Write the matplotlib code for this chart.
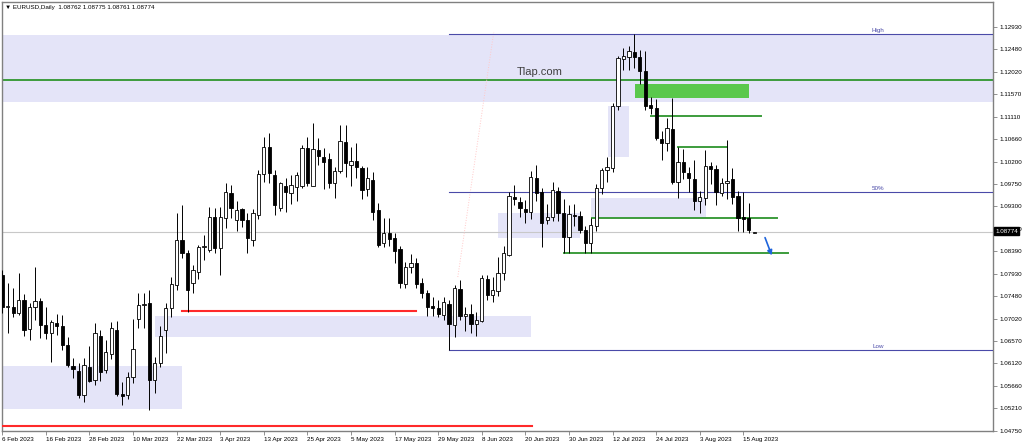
import numpy as np
import matplotlib
matplotlib.use('Agg')
import matplotlib.pyplot as plt
from matplotlib.patches import Rectangle

# daily EURUSD, 6 Feb 2023 .. 17 Aug 2023 (one value per trading day)
opens = [1.0791, 1.0726, 1.0726, 1.0714, 1.0740, 1.0682, 1.0726, 1.0738, 1.0690, 1.0673,
         1.0694, 1.0688, 1.0649, 1.0607, 1.0596, 1.0548, 1.0605, 1.0578, 1.0668, 1.0598,
         1.0630, 1.0680, 1.0550, 1.0548, 1.0584, 1.0702, 1.0730, 1.0734, 1.0578, 1.0613,
         1.0679, 1.0724, 1.0771, 1.0862, 1.0835, 1.0775, 1.0797, 1.0848, 1.0842, 1.0908,
         1.0846, 1.0906, 1.0956, 1.0902, 1.0924, 1.0902, 1.0862, 1.0912, 1.0995, 1.1050,
         1.0993, 1.0927, 1.0971, 1.0957, 1.0969, 1.0971, 1.1048, 1.0971, 1.1044, 1.1030,
         1.1026, 1.0977, 1.1001, 1.1060, 1.1013, 1.1021, 1.1007, 1.0965, 1.0983, 1.0922,
         1.0856, 1.0876, 1.0866, 1.0844, 1.0773, 1.0807, 1.0815, 1.0775, 1.0754, 1.0728,
         1.0724, 1.0710, 1.0732, 1.0690, 1.0762, 1.0707, 1.0711, 1.0692, 1.0698, 1.0783,
         1.0750, 1.0758, 1.0795, 1.0832, 1.0948, 1.0939, 1.0924, 1.0918, 1.0988, 1.0958,
         1.0902, 1.0908, 1.0961, 1.0916, 1.0868, 1.0912, 1.0910, 1.0882, 1.0855, 1.0890,
         1.0968, 1.1003, 1.1008, 1.1133, 1.1228, 1.1232, 1.1243, 1.1232, 1.1204, 1.1135,
         1.1128, 1.1066, 1.1058, 1.1086, 1.0979, 1.1019, 1.0998, 1.0985, 1.0941, 1.0946,
         1.1011, 1.1005, 1.0957, 1.0977, 1.0985, 1.0950, 1.0908, 1.0906, 1.08762]
highs = [1.0801, 1.0775, 1.0764, 1.0795, 1.0752, 1.0734, 1.0807, 1.0744, 1.0726, 1.0700,
         1.0712, 1.0709, 1.0665, 1.0623, 1.0613, 1.0623, 1.0647, 1.0694, 1.0680, 1.0659,
         1.0696, 1.0698, 1.0574, 1.0594, 1.0702, 1.0754, 1.0754, 1.0760, 1.0625, 1.0688,
         1.0734, 1.0787, 1.0916, 1.0933, 1.0841, 1.0811, 1.0852, 1.0872, 1.0928, 1.0926,
         1.0928, 1.0977, 1.0973, 1.0940, 1.0926, 1.0916, 1.0925, 1.1003, 1.1070, 1.1078,
         1.1003, 1.0980, 1.0987, 1.0993, 1.0999, 1.1054, 1.1070, 1.1099, 1.1068, 1.1048,
         1.1038, 1.1009, 1.1095, 1.1095, 1.1050, 1.1058, 1.1011, 1.1009, 1.0999, 1.0937,
         1.0906, 1.0906, 1.0876, 1.0850, 1.0817, 1.0833, 1.0825, 1.0785, 1.0760, 1.0746,
         1.0740, 1.0746, 1.0740, 1.0770, 1.0780, 1.0726, 1.0732, 1.0716, 1.0790, 1.0790,
         1.0787, 1.0827, 1.0850, 1.0958, 1.0973, 1.0949, 1.0943, 1.1001, 1.1013, 1.0967,
         1.0935, 1.0979, 1.0970, 1.0945, 1.0933, 1.0935, 1.0920, 1.0890, 1.0906, 1.0975,
         1.1008, 1.1030, 1.1140, 1.1235, 1.1250, 1.1255, 1.1278, 1.1246, 1.1245, 1.1151,
         1.1148, 1.1083, 1.1108, 1.1149, 1.1050, 1.1046, 1.1010, 1.1024, 1.0960, 1.1044,
         1.1020, 1.1013, 1.0987, 1.1064, 1.1007, 1.0960, 1.0958, 1.0937, 1.08775]
lows = [1.0714, 1.0673, 1.0705, 1.0710, 1.0667, 1.0659, 1.0700, 1.0663, 1.0662, 1.0615,
        1.0670, 1.0639, 1.0605, 1.0582, 1.0542, 1.0534, 1.0574, 1.0568, 1.0576, 1.0592,
        1.0620, 1.0546, 1.0528, 1.0540, 1.0572, 1.0684, 1.0684, 1.0517, 1.0552, 1.0605,
        1.0633, 1.0706, 1.0760, 1.0825, 1.0716, 1.0754, 1.0782, 1.0821, 1.0838, 1.0835,
        1.0791, 1.0886, 1.0906, 1.0880, 1.0888, 1.0835, 1.0850, 1.0905, 1.0980, 1.0978,
        1.0912, 1.0920, 1.0918, 1.0935, 1.0941, 1.0967, 1.0971, 1.0971, 1.1014, 1.0965,
        1.0967, 1.0947, 1.0997, 1.0989, 1.0971, 1.0987, 1.0945, 1.0950, 1.0902, 1.0847,
        1.0848, 1.0850, 1.0815, 1.0765, 1.0765, 1.0795, 1.0765, 1.0745, 1.0708, 1.0708,
        1.0705, 1.0700, 1.0639, 1.0665, 1.0700, 1.0678, 1.0673, 1.0668, 1.0695, 1.0740,
        1.0736, 1.0749, 1.0780, 1.0830, 1.0932, 1.0908, 1.0896, 1.0905, 1.0940, 1.0848,
        1.0895, 1.0900, 1.0900, 1.0835, 1.0835, 1.0890, 1.0875, 1.0835, 1.0835, 1.0880,
        1.0955, 1.0980, 1.1000, 1.1125, 1.1206, 1.1206, 1.1210, 1.1178, 1.1125, 1.1117,
        1.1065, 1.1024, 1.1042, 1.0975, 1.0947, 1.0985, 1.0959, 1.0922, 1.0917, 1.0932,
        1.0975, 1.0932, 1.0950, 1.0945, 1.0935, 1.0880, 1.0877, 1.0875, 1.08761]
closes = [1.0726, 1.0728, 1.0714, 1.0740, 1.0679, 1.0726, 1.0738, 1.0690, 1.0673, 1.0696,
          1.0688, 1.0649, 1.0609, 1.0600, 1.0548, 1.0609, 1.0576, 1.0673, 1.0594, 1.0635,
          1.0684, 1.0550, 1.0546, 1.0584, 1.0641, 1.0730, 1.0733, 1.0578, 1.0613, 1.0667,
          1.0724, 1.0773, 1.0862, 1.0835, 1.0760, 1.0801, 1.0848, 1.0849, 1.0908, 1.0846,
          1.0908, 1.0959, 1.0926, 1.0922, 1.0902, 1.0866, 1.0916, 1.0995, 1.1050, 1.0997,
          1.0933, 1.0977, 1.0959, 1.0973, 1.0993, 1.1048, 1.0977, 1.1046, 1.1032, 1.1020,
          1.0977, 1.1001, 1.1062, 1.1017, 1.1021, 1.1009, 1.0963, 1.0987, 1.0918, 1.0851,
          1.0876, 1.0864, 1.0840, 1.0775, 1.0807, 1.0815, 1.0772, 1.0754, 1.0726, 1.0724,
          1.0712, 1.0736, 1.0692, 1.0764, 1.0708, 1.0711, 1.0692, 1.0700, 1.0785, 1.0750,
          1.0760, 1.0795, 1.0835, 1.0950, 1.0945, 1.0926, 1.0918, 1.0990, 1.0957, 1.0897,
          1.0908, 1.0963, 1.0916, 1.0868, 1.0915, 1.0910, 1.0882, 1.0855, 1.0893, 1.0967,
          1.1003, 1.1010, 1.1133, 1.1230, 1.1235, 1.1245, 1.1232, 1.1204, 1.1133, 1.1128,
          1.1068, 1.1058, 1.1088, 1.0979, 1.1019, 1.0999, 1.0988, 1.0941, 1.0949, 1.1011,
          1.1005, 1.0959, 1.0977, 1.0981, 1.0948, 1.0906, 1.0905, 1.0882, 1.08774]

date_labels = ['6 Feb 2023', '16 Feb 2023', '28 Feb 2023', '10 Mar 2023', '22 Mar 2023',
               '3 Apr 2023', '13 Apr 2023', '25 Apr 2023', '5 May 2023', '17 May 2023',
               '29 May 2023', '8 Jun 2023', '20 Jun 2023', '30 Jun 2023', '12 Jul 2023',
               '24 Jul 2023', '3 Aug 2023', '15 Aug 2023']
price_ticks = [1.12930, 1.12480, 1.12020, 1.11570, 1.11110, 1.10660, 1.10200, 1.09750,
               1.09300, 1.08840, 1.08390, 1.07930, 1.07480, 1.07020, 1.06570, 1.06120,
               1.05660, 1.05210, 1.04750]

fib_high = 1.1278
fib_low = 1.0639
last_price = 1.08774
title = '\u25bc EURUSD,Daily  1.08762 1.08775 1.08761 1.08774'

ZONE = '#e4e4f8'
GREEN = '#3c9c3c'
NAVY = '#4a4aa8'
FS = 4.5


def draw_candles(ax):
    o, h, l, c = map(np.array, (opens, highs, lows, closes))
    x = np.arange(len(o))
    ax.vlines(x, l, h, color='black', lw=0.7, zorder=4)
    up = c >= o
    body = np.maximum(np.abs(c - o), 0.00003)
    ax.bar(x[up], body[up], bottom=o[up], width=0.6, color='white',
           edgecolor='black', linewidth=0.6, zorder=5)
    ax.bar(x[~up], body[~up], bottom=c[~up], width=0.6, color='black',
           edgecolor='black', linewidth=0.6, zorder=5)


def draw_markup(ax, xmax):
    # shaded zones
    zones = [(-1, xmax, 1.11411, 1.1277), (-1, 33.0, 1.05194, 1.06065),
             (28.0, 97.0, 1.06652, 1.07078), (111.2, 115.0, 1.10297, 1.11330),
             (108.0, 129.1, 1.09062, 1.09467), (91.0, 106.0, 1.08658, 1.09164)]
    for x0, x1, y0, y1 in zones:
        ax.add_patch(Rectangle((x0, y0), x1 - x0, y1 - y0, color=ZONE, lw=0, zorder=1))
    ax.add_patch(Rectangle((116.1, 1.11492), 20.9, 0.00284, color='#5ac84c', lw=0, zorder=3))

    ax.axhline(1.11857, color=GREEN, lw=1.4, zorder=2)
    ax.axhline(last_price, color='#c8c8c8', lw=0.8, zorder=2)
    for x0, x1, y in [(119.0, 139.2, 1.11128), (124.0, 133.0, 1.10500),
                      (108.2, 142.2, 1.09062), (103.1, 144.2, 1.08354)]:
        ax.plot([x0, x1], [y, y], color=GREEN, lw=1.4, zorder=3)
    ax.plot([33.0, 75.9], [1.07179, 1.07179], color='#ff2a2a', lw=1.5, zorder=3)
    ax.plot([-1, 97.2], [1.04861, 1.04861], color='#ff2a2a', lw=1.5, zorder=3)

    # fibo from 31 May low to 18 Jul high
    mid = (fib_high + fib_low) / 2
    for y, lab in [(fib_high, 'High'), (mid, '50%'), (fib_low, 'Low')]:
        ax.plot([82.0, xmax], [y, y], color=NAVY, lw=0.8, zorder=3)
        ax.text(161.8, y + 0.0002, lab, color=NAVY, fontsize=FS, ha='right', va='bottom')
    ax.plot([83.6, 90.2], [1.07868, 1.12829], color='#ffc8c8', lw=0.7, ls=':', zorder=2)

    ax.annotate('', xy=(141.4, 1.08253), xytext=(139.8, 1.08718),
                arrowprops=dict(arrowstyle='-|>', color='#1e64dc', lw=1.2,
                                mutation_scale=7), zorder=6)
    ax.text(98.7, 1.12019, 'Tlap.com', fontsize=8, color='#404040', ha='center', va='center')


if __name__ == "__main__":
    plt.rcParams['font.family'] = ['Liberation Sans', 'DejaVu Sans']
    fig = plt.figure(figsize=(10.24, 4.46), dpi=100)
    ax = fig.add_axes([2 / 1024, 15 / 446, 991 / 1024, 429 / 446])
    xmax = -0.05 + 991 / 5.449
    ax.set_xlim(-0.05, xmax)
    ax.set_ylim(1.0475, 1.13436)

    draw_candles(ax)
    draw_markup(ax, xmax)

    ax.set_xticks(np.arange(len(date_labels)) * 8)
    ax.set_xticklabels(date_labels, ha='left')
    ax.set_yticks(price_ticks)
    ax.set_yticklabels(['%.5f' % p for p in price_ticks])
    ax.yaxis.tick_right()
    ax.tick_params(axis='both', direction='out', length=3, width=0.6, color='#808080',
                   labelsize=FS, pad=1.5)
    for s in ax.spines.values():
        s.set_color('#808080')
        s.set_linewidth(1.0)

    fig.text(5 / 1024, 1 - 7 / 446, title, fontsize=FS, va='center', ha='left')
    fig.text(995 / 1024, 1 - 231 / 446, '%.5f' % last_price, fontsize=FS, color='white',
             va='center', ha='left', zorder=10,
             bbox=dict(facecolor='black', edgecolor='black', pad=1.0))

    fig.savefig('out.png', dpi=100, facecolor='white')
